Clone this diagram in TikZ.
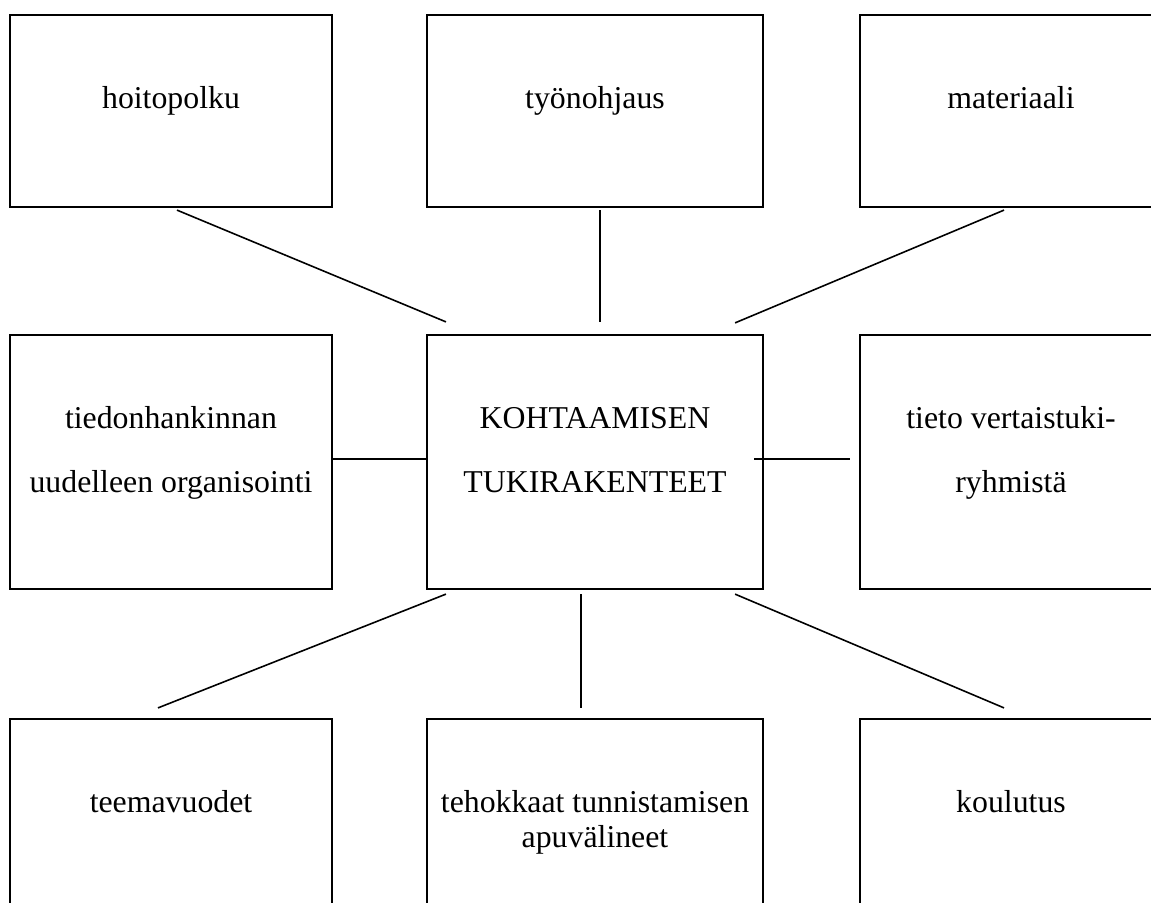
\documentclass[tikz,border=0pt]{standalone}
\usepackage{fontspec}
\setmainfont{Liberation Serif}
\usetikzlibrary{positioning,calc}
\tikzstyle{box}=[draw,rectangle,line width=0.8pt,inner sep=0pt,align=center,minimum width=121.5pt,minimum height=72.5pt,text height=0pt,text depth=2.26pt,font=\fontsize{12}{13.2}\selectfont]
\tikzstyle{mid}=[minimum width=126.8pt]
\tikzstyle{rgt}=[minimum width=114pt]
\tikzstyle{tall}=[minimum height=95.9pt,text height=22.64pt,text depth=0pt,font=\fontsize{12}{24.15}\selectfont]
\tikzstyle{link}=[line width=0.6pt]

\begin{document}
\begin{tikzpicture}[x=0.3774pt,y=-0.3774pt]
  \useasboundingbox (0,0) rectangle (1151,902);
  % top row
  \node[box]     (hoito) at (171,111)  {hoitopolku};
  \node[box,mid] (tyon)  at (595,111)  {työnohjaus};
  \node[box,rgt] (mater) at (1011,111) {materiaali};
  % middle row
  \node[box,tall]     (tiedon) at (171,462)  {tiedonhankinnan\\uudelleen organisointi};
  \node[box,mid,tall] (kohta)  at (595,462)  {KOHTAAMISEN\\TUKIRAKENTEET};
  \node[box,rgt,tall] (vertai) at (1011,462) {tieto vertaistuki-\\ryhmistä};
  % bottom row
  \node[box]     (teema) at (171,815)  {teemavuodet};
  \node[box,mid,text height=24.15pt,text depth=0pt] (tehok) at (595,815) {tehokkaat tunnistamisen\\apuvälineet};
  \node[box,rgt] (koulu) at (1011,815) {koulutus};
  \path[link]
    ($(hoito.south)+(6,2)$) edge ($(kohta.north west)+(20,-12)$)
    ($(tyon.south)+(5,2)$) edge ($(kohta.north)+(5,-12)$)
    ($(mater.south)+(-7,2)$) edge ($(kohta.north east)+(-29,-11)$)
    ($(tiedon.east)+(0,-3)$) edge ($(kohta.west)+(0,-3)$)
    ($(kohta.east)+(-10,-3)$) edge ($(vertai.west)+(-9,-3)$)
    ($(kohta.south west)+(20,4)$) edge ($(teema.north)+(-13,-10)$)
    ($(kohta.south)+(-14,4)$) edge ($(tehok.north)+(-14,-10)$)
    ($(kohta.south east)+(-29,4)$) edge ($(koulu.north)+(-7,-10)$);
\end{tikzpicture}
\end{document}
